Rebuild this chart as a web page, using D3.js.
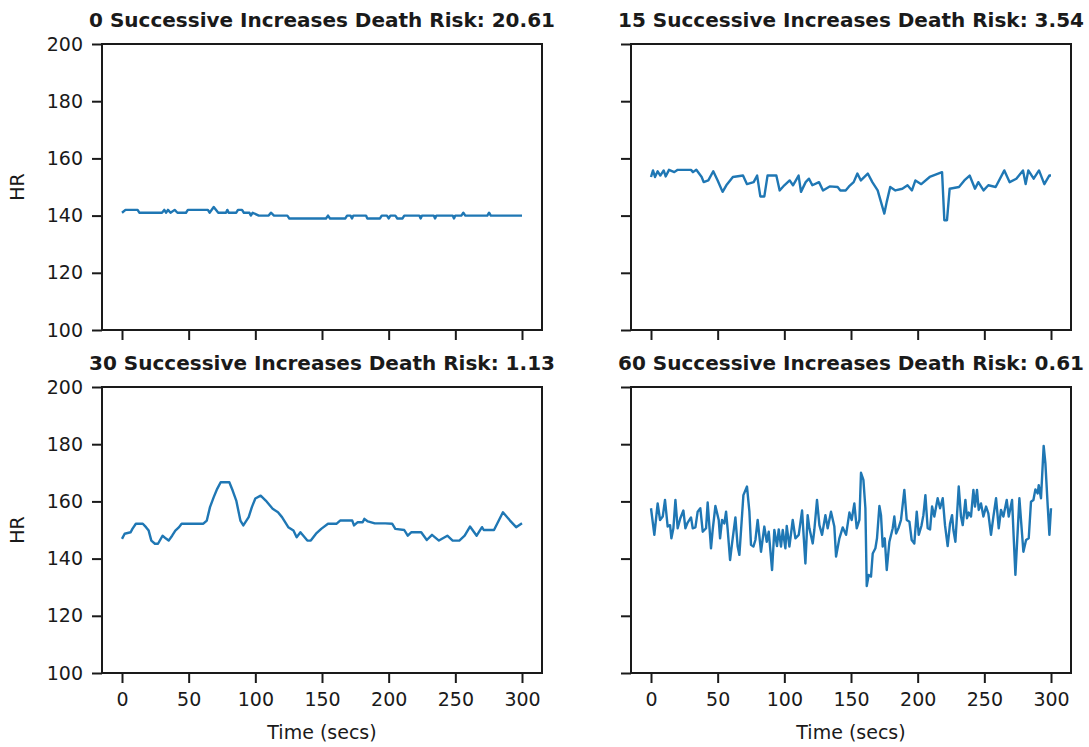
<!DOCTYPE html>
<html lang="en">
<head>
<meta charset="UTF-8" />
<title>Successive Increases vs Death Risk</title>
<script src="https://cdn.jsdelivr.net/npm/d3@7"></script>
<style>
  body { margin: 0; background: #fff; }
  svg text { font-family: "DejaVu Sans", sans-serif; fill: #1a1a1a; }
  .tick line { stroke: #1a1a1a; stroke-width: 2px; }
  .tick text { font-size: 19px; }
  .frame { fill: none; stroke: #1a1a1a; stroke-width: 2px; }
  .hr-line { fill: none; stroke: #1f77b4; stroke-width: 2.4px; stroke-linejoin: round; }
</style>
</head>
<body>
<div id="chart"></div>
<script>
// panel titles
var titles = [
  "0 Successive Increases Death Risk: 20.61",
  "15 Successive Increases Death Risk: 3.54",
  "30 Successive Increases Death Risk: 1.13",
  "60 Successive Increases Death Risk: 0.61"
];
var xTicks = [0, 50, 100, 150, 200, 250, 300];
var yTicks = [100, 120, 140, 160, 180, 200];

// [time (secs), HR]
var hr0 = [[0,141],[2.6,142],[11.7,142],[13,141],[30,141],[31.7,142],[33,141],[34.5,142],[36.4,141],
  [39.5,142],[41.6,141],[48,141],[49.4,142],[64.4,142],[65.7,141],[68.8,143],[72.2,141],[78,141],
  [79,142],[80,141],[85.7,141],[87,142],[90,142],[91.4,141],[95.6,141],[96.6,140],[98,141],
  [102.6,140],[110,140],[111.7,141],[114,140],[124,140],[125.5,139],[153,139],[154.5,140],[156,139],
  [167.5,139],[168.8,140],[171.4,140],[172.5,139],[173.5,140],[183,140],[184,139],[193.5,139],
  [194.8,140],[198.7,140],[200,139],[201.3,140],[205,140],[206.5,139],[210.4,139],[211.7,140],
  [223,140],[224,139],[225,140],[233.8,140],[234.8,139],[235.8,140],[248,140],[249,139],[250,140],
  [254.5,140],[256,141],[257.5,140],[274,140],[275.3,141],[276.6,140],[300,140]];

var hr15 = [[0,153.5],[1.5,155.8],[3,153.5],[5,155.5],[7,154],[9.5,155.8],[11,153.7],[13.5,156],
  [17.5,155.2],[20,156],[30,156],[31.5,155.2],[34,156],[38,153.5],[39.5,151.7],[43,152.3],
  [46.7,155.5],[50,152.3],[53.7,148.3],[56.5,150.6],[61.4,153.5],[69,154],[72,151],[77,151.7],
  [79.6,154],[82,146.7],[85,146.7],[87.4,154],[94,154],[96.5,148.8],[100,150.6],[104,152.3],
  [106.5,150.6],[110.7,154],[112.5,148.3],[116,151.7],[118.5,152.9],[121,150.6],[126,151.7],
  [129,148.8],[134,150.2],[140,150],[142,148.8],[146,148.8],[148.5,150.2],[152,151.7],[154.8,154.7],
  [157.4,152.3],[162.6,154.7],[166,151.7],[170,148.8],[175,140.7],[176.8,144.8],[179.4,150],
  [183.3,148.8],[188.5,149.4],[192.4,150.6],[195.7,148.8],[198.3,152.3],[202.7,151],[209,153.5],
  [218.3,155.2],[220,138.4],[222,138.4],[224,149.4],[231,150],[235,152.3],[239,154],[243,149.4],
  [245.5,151.7],[249.4,148.8],[253,150.6],[258.5,150],[265,155.8],[269,151.7],[274,152.9],
  [279,155.8],[281,151],[283,155.8],[287,152.9],[291,155.8],[295,151],[298.7,154],[300,154]];

var hr30 = [[0,146.9],[2,148.7],[6.5,149.2],[7.8,150.4],[10.4,152.2],[15.6,152.2],[18,151],
  [20,149.8],[22,146.3],[24.7,145.2],[27,145.2],[30.4,148],[33,147],[35,146.3],[37.6,148],
  [40,149.8],[42.8,151],[44.7,152.2],[61,152.2],[63.6,153.3],[66,158],[68.8,161.5],[71.4,164.4],
  [74,166.7],[80.5,166.7],[83,163.8],[85.7,160.3],[88.8,153.3],[91,151.6],[95,154.5],[97.4,158],
  [100,161],[104,162],[107.8,160.3],[113,157.4],[117,156.2],[120,154.5],[124.7,151],[128.6,149.8],
  [131,147.5],[133.8,149.2],[139,146.3],[141.6,146.3],[145.5,148.7],[149.4,150.4],[154.5,152.2],
  [161,152.2],[163.6,153.3],[172.7,153.3],[174,151.6],[176.6,152.7],[180.5,152.7],[181.8,153.9],
  [184.4,153],[189.6,152.3],[197.4,152.3],[202.6,152.2],[205,150.4],[211.7,150],[214.3,148],
  [216.9,149.2],[224.4,149.2],[228.6,146.5],[232.5,148.3],[237.7,146.3],[244,148],[248,146.3],
  [253,146.3],[257,148],[261,151.2],[266,148],[270,151],[271.3,150],[279,150],[285.7,156.2],
  [291,153.3],[295.6,151],[300,152.4]];

var hr60 = [[0,157.6],[2.5,148.3],[5,159.3],[6.8,153.5],[8.8,154.7],[10.5,160.5],[12.5,151.2],
  [14.3,151.7],[15.3,147.1],[16.8,150.6],[18.3,160.5],[20,150.6],[22,154.1],[24.3,156.8],
  [25.8,150.6],[27.5,152.6],[30,154.4],[31.3,150.6],[33.3,150.9],[35,156.4],[37,157.6],
  [38.8,149.4],[41.3,150.6],[42.5,159.6],[45,143.6],[46.3,150.2],[48.3,158.4],[50.8,153.5],
  [51.8,147.1],[53.3,153.5],[55,152.3],[56.3,156.4],[57.5,150.2],[59.3,139.5],[60.8,145.3],
  [63.3,154.4],[65,144.2],[66.3,141.3],[69.3,162.2],[72,165.2],[73.8,156.4],[75,144.8],
  [76.8,144.2],[78.3,146.5],[80,153.5],[82.5,142.4],[85,151.2],[86.8,145.9],[88.3,149.4],
  [90.8,136],[92.5,150],[94.5,144.4],[95.8,150.2],[97.5,144.2],[98.8,150],[100.8,143.6],
  [101.8,151.4],[103.8,144.2],[106.3,153.5],[108.3,147.1],[110.8,148.3],[113.3,156.8],
  [115.8,138.3],[117.5,155.2],[118.8,150.6],[121.3,145.3],[122.5,150],[124.5,160.5],
  [126.3,151.7],[128.3,148.3],[130.8,155.2],[132.5,150.6],[135,156.4],[137.5,151.2],
  [138.8,140.7],[141.3,147.1],[143.8,150.9],[146.3,148.3],[148.8,156.1],[150.5,153.5],
  [152.5,159.3],[154.3,150.6],[156.3,153.5],[157.5,170],[159.3,167.5],[160.8,157.6],
  [161.8,130.4],[163.3,134.3],[165,133.7],[166.3,141.8],[168.3,143.6],[169.5,147.1],
  [171.3,158.4],[172.5,155.2],[173.8,144.2],[175.3,147.1],[176.8,136],[178.8,145.9],
  [181.3,150.6],[182.5,154.7],[183.8,148.8],[185.8,150.9],[187.5,153.5],[190,164],
  [191.8,153.5],[193.8,152.9],[195.5,146.5],[197.5,145.3],[199.3,156.4],[200.8,148.3],
  [202.8,151.4],[204.3,155.2],[205.8,162.2],[207.5,150.6],[209.3,150.2],[210.8,158.2],
  [212.5,154.7],[215,161.1],[216.8,157.6],[218.8,161.1],[220.5,151.7],[222.5,144.4],
  [224.3,152.3],[225.8,155.2],[226.8,150],[228.3,145.9],[230.8,165.2],[232.5,154.7],
  [233.8,151.7],[235.8,160.5],[237,154.1],[238.3,156.1],[240,154.7],[241.8,164],[243,158.2],
  [244.5,164],[245.8,157],[247.5,159.3],[249.3,154.7],[251.3,158.2],[253,155.8],[255,148.3],
  [256.8,154.7],[258.8,161.1],[260.8,150.6],[262.5,157],[264.3,154.7],[266.8,160.5],
  [268.3,154.7],[270.8,160.5],[272,147.7],[273.3,134.3],[276.3,161.1],[277.5,153.5],
  [279.3,142.4],[281.3,146.5],[283.3,147.1],[285,159.9],[286.8,160.5],[288.3,164.2],
  [290,162.8],[290.8,165.7],[292.5,161.1],[294.5,179.4],[295.8,173.3],[297.5,158.7],
  [298.8,148.3],[300,157.6]];

var series = [hr0, hr15, hr30, hr60];

var W = 1089, H = 747;
var pw = 440, ph = 286;
var lefts = [102, 631], tops = [44, 387];

var svg = d3.select("#chart").append("svg")
  .attr("width", W)
  .attr("height", H);

var x = d3.scaleLinear().domain([-15, 315]).range([0, pw]);
var y = d3.scaleLinear().domain([100, 200]).range([ph, 0]);

var line = d3.line()
  .x(function(d) { return x(d[0]); })
  .y(function(d) { return y(d[1]); });

series.forEach(function(data, i) {
  var col = i % 2, row = Math.floor(i / 2);
  var g = svg.append("g")
    .attr("transform", "translate(" + lefts[col] + "," + tops[row] + ")");

  var yAxis = d3.axisLeft(y).tickValues(yTicks).tickSize(10).tickPadding(9);
  if (col == 1) yAxis.tickFormat("");
  g.append("g").call(yAxis).call(function(s) { s.select(".domain").remove(); });

  var xAxis = d3.axisBottom(x).tickValues(xTicks).tickSize(10).tickPadding(10);
  if (row == 0) xAxis.tickFormat("");
  g.append("g")
    .attr("transform", "translate(0," + ph + ")")
    .call(xAxis).call(function(s) { s.select(".domain").remove(); });

  g.selectAll(".tick text").attr("font-family", null).attr("font-size", null);

  g.append("path")
    .datum(data)
    .attr("class", "hr-line")
    .attr("d", line);

  g.append("rect")
    .attr("class", "frame")
    .attr("width", pw)
    .attr("height", ph);

  g.append("text")
    .attr("x", pw / 2)
    .attr("y", -17)
    .attr("text-anchor", "middle")
    .style("font-size", "20px")
    .style("font-weight", "bold")
    .text(titles[i]);

  if (col == 0) {
    g.append("text")
      .attr("transform", "translate(-78," + (ph / 2) + ") rotate(-90)")
      .attr("text-anchor", "middle")
      .style("font-size", "19px")
      .text("HR");
  }
  if (row == 1) {
    g.append("text")
      .attr("x", pw / 2)
      .attr("y", ph + 66)
      .attr("text-anchor", "middle")
      .style("font-size", "19px")
      .text("Time (secs)");
  }
});
</script>
</body>
</html>
